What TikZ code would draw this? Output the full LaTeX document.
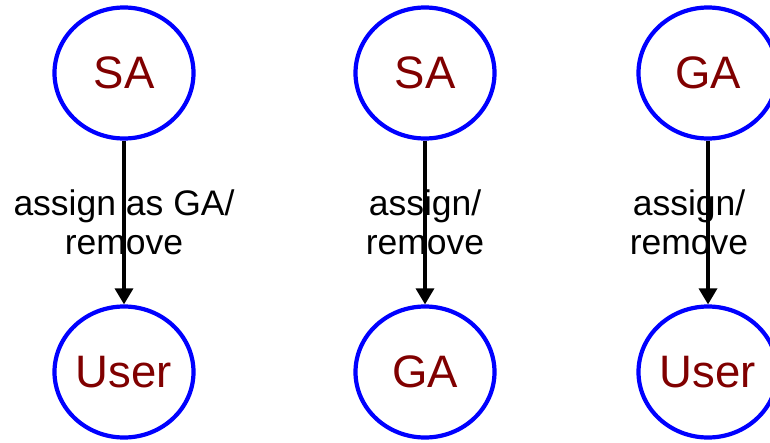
\documentclass[tikz,border=0pt]{standalone}
\usepackage{fontspec}
\setmainfont{Liberation Sans}
\usetikzlibrary{shapes.geometric,arrows.meta}
\definecolor{rolered}{RGB}{128,0,0}
\definecolor{roleblue}{RGB}{0,0,255}
\begin{document}
\begin{tikzpicture}[x=1pt,y=-1pt,
  role/.style={ellipse,draw=roleblue,line width=4.2pt,minimum width=139pt,
    minimum height=131pt,inner sep=0pt,text=rolered,
    font=\fontsize{45.5}{48}\selectfont},
  link/.style={line width=3.4pt,-{Triangle[width=18pt,length=16pt]}},
  lbl/.style={align=center,inner sep=0pt,text=black,
    font=\fontsize{35.5}{39}\selectfont}]
\useasboundingbox (0,0) rectangle (770,442);
\clip (0,0) rectangle (770,442);
% first pair
\node[role] (sa1) at (124,73) {SA};
\node[role] (u1) at (124,372) {User};
\draw[link] (sa1) -- node[lbl,midway] (l1) {assign as GA/\\remove} (u1);
% second pair
\node[role] (sa2) at (425,73) {SA};
\node[role] (ga2) at (425,372) {GA};
\draw[link] (sa2) -- node[lbl,midway] (l2) {assign/\\remove} (ga2);
% third pair
\node[role] (ga3) at (708,73) {GA};
\node[role] (u3) at (708,372) {User};
\draw[link] (ga3) -- node[lbl,midway,xshift=-19pt] (l3) {assign/\\remove} (u3);
\end{tikzpicture}
\end{document}
